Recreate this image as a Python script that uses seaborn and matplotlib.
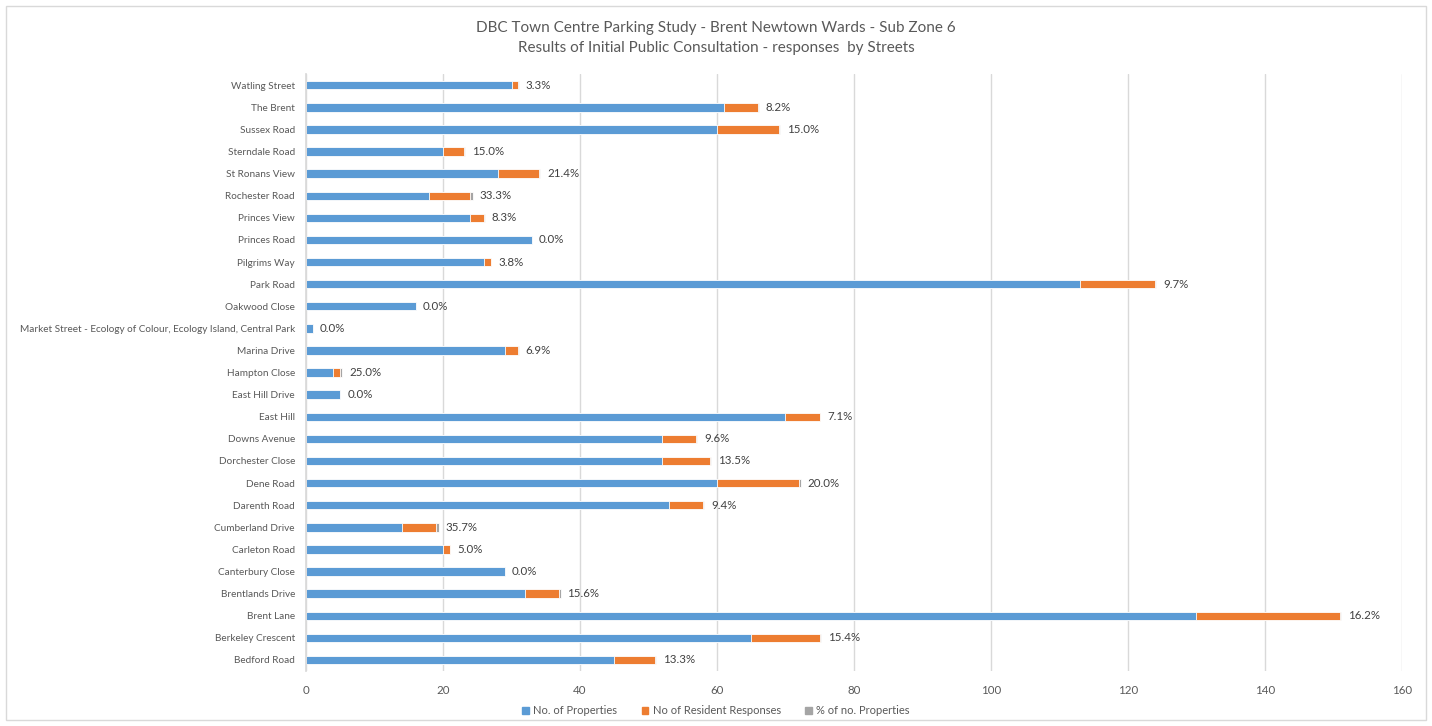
import matplotlib.pyplot as plt
import numpy as np
import pandas as pd
import seaborn as sns
from matplotlib.patches import Patch, Rectangle

# Streets, top to bottom as they appear on the chart
STREETS = [
    "Watling Street", "The Brent", "Sussex Road", "Sterndale Road", "St Ronans View",
    "Rochester Road", "Princes View", "Princes Road", "Pilgrims Way", "Park Road",
    "Oakwood Close", "Market Street - Ecology of Colour, Ecology Island, Central Park",
    "Marina Drive", "Hampton Close", "East Hill Drive", "East Hill", "Downs Avenue",
    "Dorchester Close", "Dene Road", "Darenth Road", "Cumberland Drive", "Carleton Road",
    "Canterbury Close", "Brentlands Drive", "Brent Lane", "Berkeley Crescent", "Bedford Road",
]
PROPERTIES = [30, 61, 60, 20, 28, 18, 24, 33, 26, 113, 16, 1, 29, 4, 5, 70, 52,
              52, 60, 53, 14, 20, 29, 32, 130, 65, 45]
RESPONSES = [1, 5, 9, 3, 6, 6, 2, 0, 1, 11, 0, 0, 2, 1, 0, 5, 5,
             7, 12, 5, 5, 1, 0, 5, 21, 10, 6]

BLUE = "#5b9bd5"
ORANGE = "#ed7d31"
GREY = "#a5a5a5"
TEXT = "#595959"

df = pd.DataFrame({"street": STREETS, "props": PROPERTIES, "resp": RESPONSES})
df["pct"] = df["resp"] / df["props"]
df["stack2"] = df["props"] + df["resp"]
df["stack3"] = df["stack2"] + df["pct"]

sns.set_theme(style="white")
plt.rcParams["font.family"] = ["Lato", "DejaVu Sans"]

fig = plt.figure(figsize=(14.32, 7.26), dpi=100)
ax = fig.add_axes([0.2137, 0.0758, 0.7653, 0.822])

bar_w = 0.38
opts = dict(width=bar_w, orient="h", saturation=1, edgecolor="white", linewidth=0.6, ax=ax)
sns.barplot(data=df, y="street", x="stack3", color=GREY, **opts)
sns.barplot(data=df, y="street", x="stack2", color=ORANGE, **opts)
sns.barplot(data=df, y="street", x="props", color=BLUE, **opts)

ax.bar_label(ax.containers[0], labels=[f"{p:.1%}" for p in df["pct"]],
             padding=5, fontsize=8.3, color="#404040")

ax.set_xlim(0, 160)
ax.set_xticks(np.arange(0, 161, 20))
ax.set_ylim(len(STREETS) - 0.5, -0.5)
ax.set_xlabel("")
ax.set_ylabel("")
ax.grid(axis="x", color="#d9d9d9", linewidth=1)
ax.set_axisbelow(True)
for side in ["top", "right", "bottom"]:
    ax.spines[side].set_visible(False)
ax.spines["left"].set_color("#d9d9d9")
ax.tick_params(axis="both", length=0, labelcolor=TEXT)
ax.tick_params(axis="x", pad=10, labelsize=8.3)
ax.tick_params(axis="y", pad=8, labelsize=7.2)

fig.text(0.5, 0.962, "DBC Town Centre Parking Study - Brent Newtown Wards - Sub Zone 6",
         ha="center", va="center", fontsize=11, color=TEXT)
fig.text(0.5, 0.934, "Results of Initial Public Consultation - responses  by Streets",
         ha="center", va="center", fontsize=11, color=TEXT)

handles = [Patch(color=BLUE, label="No. of Properties"),
           Patch(color=ORANGE, label="No of Resident Responses"),
           Patch(color=GREY, label="% of no. Properties")]
leg = fig.legend(handles=handles, loc="center", bbox_to_anchor=(0.5, 0.021), ncol=3,
                 frameon=False, fontsize=8, handlelength=0.6, handleheight=0.6,
                 columnspacing=2.2, handletextpad=0.4)
for t in leg.get_texts():
    t.set_color(TEXT)

fig.patches.append(Rectangle((0.004, 0.008), 0.992, 0.984, transform=fig.transFigure,
                             fill=False, edgecolor="#d9d9d9", linewidth=1))

fig.savefig("out.png", dpi=100, facecolor="white")
